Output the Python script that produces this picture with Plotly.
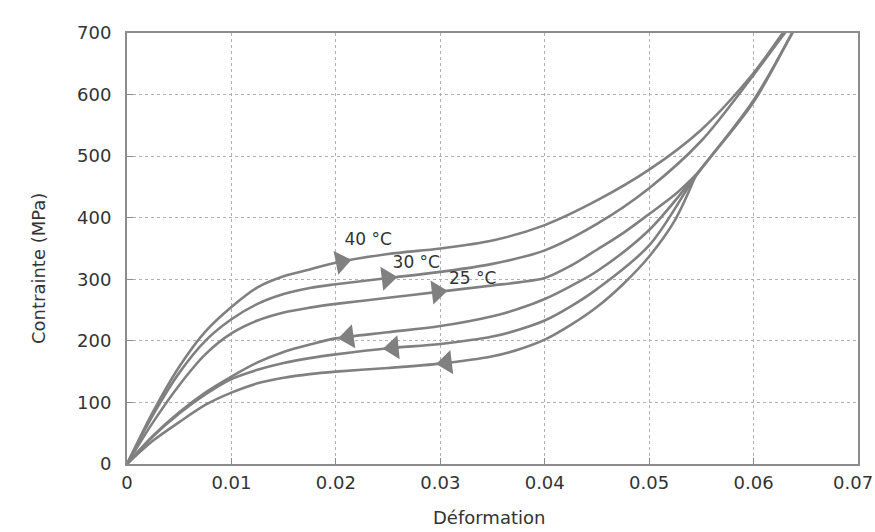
import numpy as np
import plotly.graph_objects as go

# ---- data ----
strain_load_40 = [0, 0.0025, 0.005, 0.0075, 0.01, 0.0125, 0.015, 0.0175, 0.02, 0.025, 0.03,
                  0.035, 0.04, 0.045, 0.05, 0.055, 0.06, 0.0628, 0.0655]
stress_load_40 = [0, 85, 158, 215, 255, 287, 305, 316, 327, 341, 350, 363, 388, 428, 478, 543, 635, 700, 760]
strain_load_30 = [0, 0.0025, 0.005, 0.0075, 0.01, 0.0125, 0.015, 0.0175, 0.02, 0.025, 0.03,
                  0.035, 0.04, 0.045, 0.05, 0.055, 0.06, 0.063, 0.0655]
stress_load_30 = [0, 80, 148, 200, 235, 260, 276, 286, 292, 302, 312, 325, 347, 390, 448, 525, 632, 700, 755]
strain_load_25 = [0, 0.0025, 0.005, 0.0075, 0.01, 0.0125, 0.015, 0.0175, 0.02, 0.025, 0.03,
                  0.035, 0.0375, 0.04, 0.0425, 0.045, 0.0475, 0.05, 0.0525, 0.0545]
stress_load_25 = [0, 68, 128, 178, 212, 233, 246, 254, 260, 270, 280, 290, 295, 302, 322, 348, 375, 406, 438, 470]

strain_unload_hi = [0, 0.0025, 0.005, 0.0075, 0.01, 0.0125, 0.015, 0.0175, 0.02, 0.025, 0.03,
                    0.035, 0.0375, 0.04, 0.0425, 0.045, 0.05, 0.0545, 0.06, 0.0637, 0.0655]
stress_unload_40 = [0, 46, 84, 116, 142, 165, 182, 194, 204, 214, 224, 240, 252, 268, 289, 313, 380, 470, 591, 700, 755]
stress_unload_30 = [0, 45, 82, 113, 138, 153, 164, 172, 178, 188, 195, 207, 218, 233, 256, 284, 355, 468, 588, 700, 755]
strain_unload_25 = [0, 0.0025, 0.005, 0.0075, 0.01, 0.0125, 0.015, 0.0175, 0.02, 0.025, 0.03,
                    0.035, 0.0375, 0.04, 0.0425, 0.045, 0.0475, 0.05, 0.0525, 0.0545]
stress_unload_25 = [0, 38, 68, 96, 116, 131, 140, 146, 150, 156, 163, 175, 186, 202, 226, 255, 292, 337, 397, 470]

# arrow positions (strain) and temperature labels
arrow_load_x = [0.0205, 0.0249, 0.0297]
arrow_unload_x = [0.0212, 0.0255, 0.0306]
label_texts = ["40 °C", "30 °C", "25 °C"]
label_x = [0.0231, 0.0277, 0.0331]
label_y = [362, 326, 299]

x_ticks = [0, 0.01, 0.02, 0.03, 0.04, 0.05, 0.06, 0.07]
x_tick_text = ["0", "0.01", "0.02", "0.03", "0.04", "0.05", "0.06", "0.07"]
y_ticks = [0, 100, 200, 300, 400, 500, 600, 700]

LINE = "#808080"
TXT = "#333333"
FONT = "DejaVu Sans"
W, H = 875, 532
ML, MR, MT, MB = 127, 17, 33, 68
PX_X = (W - ML - MR) / 0.07
PX_Y = (H - MT - MB) / 700.0

fig = go.Figure()

curves = [
    (strain_load_40, stress_load_40),
    (strain_load_30, stress_load_30),
    (strain_load_25, stress_load_25),
    (strain_unload_hi, stress_unload_40),
    (strain_unload_hi, stress_unload_30),
    (strain_unload_25, stress_unload_25),
]
for xs, ys in curves:
    fig.add_trace(go.Scatter(x=xs, y=ys, mode="lines",
                             line=dict(color=LINE, width=2.6, shape="spline", smoothing=0.9),
                             hoverinfo="skip", showlegend=False))


def arrow(xs, ys, xa, symbol):
    xs = np.asarray(xs, float)
    ys = np.asarray(ys, float)
    ya = float(np.interp(xa, xs, ys))
    d = 0.002
    slope = (np.interp(xa + d, xs, ys) - np.interp(xa - d, xs, ys)) / (2 * d)
    ang = -np.degrees(np.arctan(slope * PX_Y / PX_X))
    fig.add_trace(go.Scatter(x=[xa], y=[ya], mode="markers",
                             marker=dict(symbol=symbol, size=21, color=LINE, angle=ang,
                                         line=dict(width=0)),
                             hoverinfo="skip", showlegend=False))


for (xs, ys), xa in zip(curves[:3], arrow_load_x):
    arrow(xs, ys, xa, "triangle-right")
for (xs, ys), xa in zip(curves[3:], arrow_unload_x):
    arrow(xs, ys, xa, "triangle-left")

fig.add_trace(go.Scatter(x=label_x, y=label_y, mode="text", text=label_texts,
                         textfont=dict(family=FONT, size=17, color=TXT),
                         hoverinfo="skip", showlegend=False))

axis_common = dict(
    showline=True, linecolor="#8c8c8c", linewidth=2, mirror=True,
    showgrid=True, gridcolor="#b0b0b0", griddash="dot", gridwidth=1,
    ticks="inside", ticklen=6, tickcolor="#8c8c8c",
    tickfont=dict(family=FONT, size=18, color=TXT),
    zeroline=False,
)
# last x tick label sits on the window edge: drawn as an annotation, right-aligned to stay readable
fig.update_xaxes(range=[0, 0.07], tickvals=x_ticks[:-1], ticktext=x_tick_text[:-1],
                 ticklabelstandoff=1, **axis_common)
fig.update_yaxes(range=[0, 700], tickvals=y_ticks, ticklabelstandoff=10, **axis_common)

fig.add_annotation(x=x_ticks[-1], y=0, xref="x", yref="y", text=x_tick_text[-1],
                   showarrow=False, yanchor="top", xanchor="right", xshift=17, yshift=-6,
                   font=dict(family=FONT, size=18, color=TXT))
fig.add_annotation(x=0.495, y=-0.123, xref="paper", yref="paper", text="Déformation",
                   showarrow=False, yanchor="middle",
                   font=dict(family=FONT, size=18, color=TXT))
fig.add_annotation(x=0, y=0.4524, xref="paper", yref="paper", text="Contrainte (MPa)",
                   showarrow=False, textangle=-90, xanchor="center", xshift=-89,
                   font=dict(family=FONT, size=18, color=TXT))

fig.update_layout(width=W, height=H, margin=dict(l=ML, r=MR, t=MT, b=MB, autoexpand=False),
                  paper_bgcolor="white", plot_bgcolor="white")

fig.write_html("out.html", config={"displayModeBar": False},
               post_script="document.body.style.margin='0';")
